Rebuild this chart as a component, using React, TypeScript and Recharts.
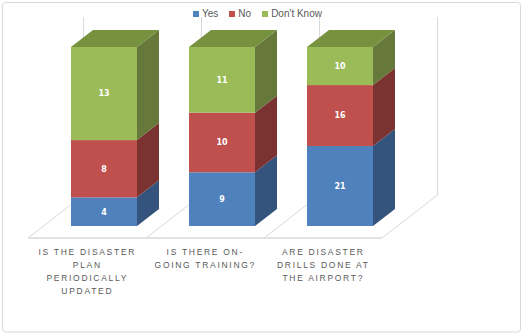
import React from 'react';
import { BarChart, Bar, XAxis, YAxis, LabelList } from 'recharts';

const categories = [
  'IS THE DISASTER PLAN PERIODICALLY UPDATED',
  'IS THERE ON-GOING TRAINING?',
  'ARE DISASTER DRILLS DONE AT THE AIRPORT?',
];
const categoryLines = [
  ['IS THE DISASTER', 'PLAN', 'PERIODICALLY', 'UPDATED'],
  ['IS THERE ON-', 'GOING TRAINING?'],
  ['ARE DISASTER', 'DRILLS DONE AT', 'THE AIRPORT?'],
];
const yesValues = [4, 9, 21];
const noValues = [8, 10, 16];
const dontKnowValues = [13, 11, 10];
const seriesNames = ['Yes', 'No', "Don't Know"];

const data = categories.map((c, i) => ({
  category: c,
  yes: yesValues[i],
  no: noValues[i],
  dk: dontKnowValues[i],
}));

const W = 525;
const H = 335;
const AXIS_H = 30;
const M = { top: 47, right: 126, bottom: 109 - AXIS_H, left: 45 };
const PLOT_LEFT = M.left;
const PLOT_RIGHT = W - M.right;
const PLOT_BOTTOM = H - M.bottom - AXIS_H;
const BAND = (PLOT_RIGHT - PLOT_LEFT) / categories.length;
const DX = 22;
const DY = -17;

const COLORS = {
  yes: { front: '#4F81BD', side: '#34547d' },
  no: { front: '#C0504D', side: '#7a3331' },
  dk: { front: '#9BBB59', side: '#66793a', top: '#77923f' },
};

const makeShape = (side: string, top?: string) => (props: any) => {
  const { x, y, width, height, fill } = props;
  if (width == null || height == null) return <g />;
  return (
    <g>
      <rect x={x} y={y} width={width} height={height} fill={fill} />
      <polygon
        points={`${x + width},${y} ${x + width + DX},${y + DY} ${x + width + DX},${y + height + DY} ${x + width},${y + height}`}
        fill={side}
      />
      {top && (
        <polygon
          points={`${x},${y} ${x + DX},${y + DY} ${x + width + DX},${y + DY} ${x + width},${y}`}
          fill={top}
        />
      )}
    </g>
  );
};

const CatTick = (props: any) => {
  const { x, payload } = props;
  const idx = categories.indexOf(payload.value);
  const lines = categoryLines[idx] || [];
  const cx = x - 17.5 + 0.8;
  return (
    <text
      x={cx}
      y={PLOT_BOTTOM + 29}
      textAnchor="middle"
      fill="#595959"
      fontSize={8.5}
      fontFamily="'Liberation Sans', Arial, sans-serif"
      letterSpacing={1.7}
    >
      {lines.map((l, i) => (
        <tspan key={i} x={cx} dy={i === 0 ? 0 : 13}>
          {l}
        </tspan>
      ))}
    </text>
  );
};

const Backdrop = () => {
  const fx0 = PLOT_LEFT - 17;
  const fy = PLOT_BOTTOM + 12;
  const bdx = 55.5;
  const bdy = -43;
  const fw = BAND;
  const lines: React.ReactNode[] = [];
  for (let k = 0; k <= categories.length; k++) {
    const x0 = fx0 + fw * k;
    lines.push(
      <line key={'d' + k} x1={x0} y1={fy} x2={x0 + bdx} y2={fy + bdy} stroke="#d9d9d9" strokeWidth={1} />
    );
    lines.push(
      <line key={'v' + k} x1={x0 + bdx} y1={fy + bdy} x2={x0 + bdx} y2={M.top - 30} stroke="#d9d9d9" strokeWidth={1} />
    );
  }
  return (
    <svg width={W} height={H} style={{ position: 'absolute', left: 0, top: 0 }}>
      <rect x={2.5} y={2.5} width={518} height={329.5} rx={3} fill="#fff" stroke="#d9d9d9" />
      {lines}
      <line x1={fx0} y1={fy} x2={fx0 + fw * categories.length} y2={fy} stroke="#d9d9d9" strokeWidth={1.5} />
    </svg>
  );
};

const LegendBox = () => {
  const cols = [COLORS.yes.front, COLORS.no.front, COLORS.dk.front];
  return (
    <div
      style={{
        position: 'absolute',
        left: 193,
        top: 8,
        display: 'flex',
        alignItems: 'center',
        fontFamily: "'Liberation Sans', Arial, sans-serif",
        fontSize: 10,
        color: '#595959',
        whiteSpace: 'nowrap',
      }}
    >
      {seriesNames.map((n, i) => (
        <span key={n} style={{ display: 'flex', alignItems: 'center', marginRight: 11 }}>
          <span style={{ display: 'inline-block', width: 6, height: 6, background: cols[i], marginRight: 3 }} />
          {n}
        </span>
      ))}
    </div>
  );
};

const labelStyle = {
  fill: '#ffffff',
  fontSize: 8,
  fontWeight: 'bold' as const,
  fontFamily: "'DejaVu Sans', sans-serif",
};

export default function App() {
  return (
    <div style={{ position: 'absolute', left: 0, top: 0, width: W, height: H, background: '#fff' }}>
      <Backdrop />
      <LegendBox />
      <div style={{ position: 'absolute', left: 0, top: 0 }}>
        <BarChart width={W} height={H} data={data} margin={M} stackOffset="expand" barSize={66}>
          <XAxis
            dataKey="category"
            axisLine={false}
            tickLine={false}
            height={AXIS_H}
            interval={0}
            tick={<CatTick />}
          />
          <YAxis hide domain={[0, 1]} />
          <Bar dataKey="yes" stackId="s" fill={COLORS.yes.front} isAnimationActive={false} shape={makeShape(COLORS.yes.side)}>
            <LabelList dataKey="yes" position="center" style={labelStyle} />
          </Bar>
          <Bar dataKey="no" stackId="s" fill={COLORS.no.front} isAnimationActive={false} shape={makeShape(COLORS.no.side)}>
            <LabelList dataKey="no" position="center" style={labelStyle} />
          </Bar>
          <Bar dataKey="dk" stackId="s" fill={COLORS.dk.front} isAnimationActive={false} shape={makeShape(COLORS.dk.side, COLORS.dk.top)}>
            <LabelList dataKey="dk" position="center" style={labelStyle} />
          </Bar>
        </BarChart>
      </div>
    </div>
  );
}
